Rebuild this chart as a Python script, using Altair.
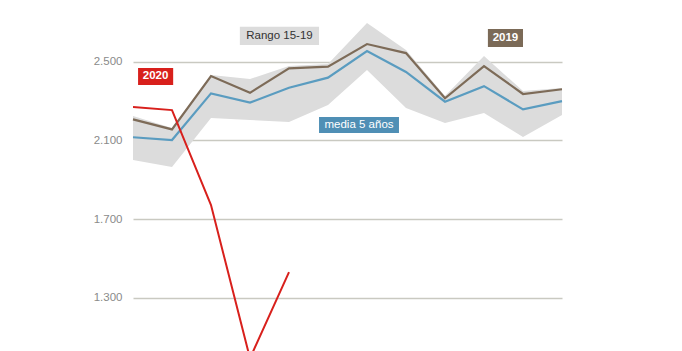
import altair as alt
import pandas as pd

# weekly index (12 weeks shown)
semana = list(range(12))
rango_max = [2224, 2163, 2432, 2412, 2478, 2488, 2697, 2560, 2326, 2529, 2351, 2366]
rango_min = [2000, 1965, 2214, 2204, 2193, 2280, 2458, 2265, 2188, 2239, 2117, 2229]
serie_2019 = [2207, 2156, 2427, 2342, 2466, 2475, 2590, 2544, 2314, 2478, 2336, 2360]
media_5 = [2116, 2102, 2339, 2292, 2368, 2419, 2554, 2448, 2297, 2376, 2258, 2300]
serie_2020 = [2270, 2254, 1771, 992, 1430]

y_ticks = [1300, 1700, 2100, 2500]

# annotation boxes (data units)
ann_text = ["Rango 15-19", "2020", "2019", "media 5 años"]
ann_x1 = [2.74, 0.13, 9.10, 4.77]
ann_x2 = [4.77, 1.03, 10.0, 6.82]
ann_y1 = [2678, 2468, 2666, 2219]
ann_y2 = [2585, 2382, 2575, 2137]
ann_fill = ["#dcdcdc", "#d8201c", "#7b6a57", "#4f8fb5"]
ann_color = ["#333333", "#ffffff", "#ffffff", "#ffffff"]
ann_bold = [False, True, True, False]

df = pd.DataFrame({"semana": semana, "max": rango_max, "min": rango_min,
                   "y2019": serie_2019, "media": media_5})
df20 = pd.DataFrame({"semana": semana[:len(serie_2020)], "y2020": serie_2020})
ann = pd.DataFrame({"t": ann_text, "x1": ann_x1, "x2": ann_x2, "y1": ann_y1, "y2": ann_y2,
                    "fill": ann_fill, "col": ann_color, "b": ann_bold})
ann["xc"] = (ann["x1"] + ann["x2"]) / 2
ann["yc"] = (ann["y1"] + ann["y2"]) / 2

xs = alt.Scale(domain=[0, 11], nice=False)
ys = alt.Scale(domain=[1029, 2814], nice=False, zero=False)

yaxis = alt.Axis(values=y_ticks, grid=True, gridColor="#c9c9c1", gridWidth=1.5,
                 domain=False, ticks=False, labelPadding=11, labelColor="#8a8a8a",
                 labelFontSize=11.5, labelFont="Liberation Sans", title=None,
                 labelExpr="replace(format(datum.value, ','), ',', '.')")

band = alt.Chart(df).mark_area(color="#dcdcdc", opacity=1).encode(
    x=alt.X("semana:Q", scale=xs, axis=None),
    y=alt.Y("min:Q", scale=ys, axis=yaxis),
    y2="max:Q",
)

l2019 = alt.Chart(df).mark_line(color="#7d6b58", strokeWidth=2.2).encode(
    x=alt.X("semana:Q", scale=xs), y=alt.Y("y2019:Q", scale=ys))
lmedia = alt.Chart(df).mark_line(color="#5a9cc0", strokeWidth=2.2).encode(
    x=alt.X("semana:Q", scale=xs), y=alt.Y("media:Q", scale=ys))
l2020 = alt.Chart(df20).mark_line(color="#d8201c", strokeWidth=2, clip=True).encode(
    x=alt.X("semana:Q", scale=xs), y=alt.Y("y2020:Q", scale=ys))

boxes = alt.Chart(ann).mark_rect(opacity=1).encode(
    x=alt.X("x1:Q", scale=xs), x2="x2:Q",
    y=alt.Y("y1:Q", scale=ys), y2="y2:Q",
    fill=alt.Fill("fill:N", scale=None),
)


def text_layer(bold):
    return alt.Chart(ann[ann["b"] == bold]).mark_text(
        font="Liberation Sans", fontSize=11.5, baseline="middle", align="center",
        fontWeight="bold" if bold else "normal").encode(
        x=alt.X("xc:Q", scale=xs), y=alt.Y("yc:Q", scale=ys), text="t:N",
        color=alt.Color("col:N", scale=None),
    )


chart = alt.layer(band, l2019, lmedia, l2020, boxes, text_layer(False), text_layer(True)).properties(
    width=429, height=351,
    autosize=alt.AutoSizeParams(type="none"),
    padding={"left": 133, "top": 0, "right": 120, "bottom": 0},
    background="#ffffff",
).configure_view(stroke=None)

chart.save("out.html", embed_options={"renderer": "svg", "actions": False})
